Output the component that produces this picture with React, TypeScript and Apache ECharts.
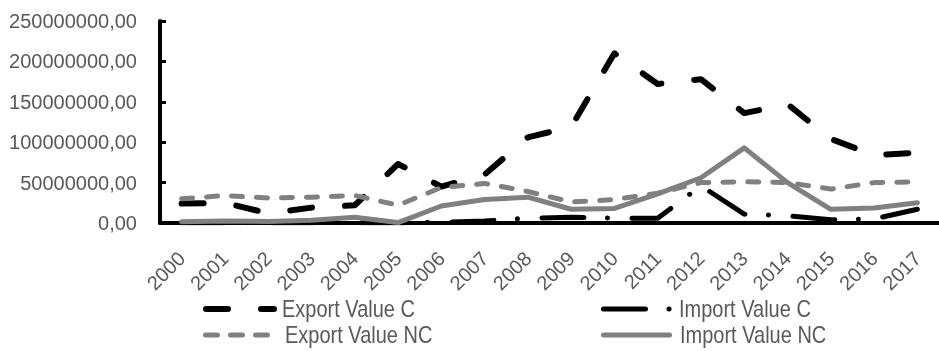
import { useEffect, useRef } from "react";
import * as echarts from "echarts";

const years = [
  "2000", "2001", "2002", "2003", "2004", "2005", "2006", "2007", "2008",
  "2009", "2010", "2011", "2012", "2013", "2014", "2015", "2016", "2017",
];

const exportValueC = [
  24000000, 25000000, 12000000, 19000000, 22000000, 73000000, 45000000, 60000000, 106000000,
  119000000, 210000000, 172000000, 178000000, 136000000, 147000000, 104000000, 84000000, 87000000,
];

const importValueC = [
  300000, 300000, 300000, 300000, 300000, 300000, 1000000, 2500000, 6000000,
  7000000, 6000000, 6000000, 46000000, 11000000, 9000000, 4000000, 5000000, 17000000,
];

const exportValueNC = [
  30000000, 34000000, 31000000, 32000000, 34000000, 22000000, 44000000, 49000000, 39000000,
  26000000, 29000000, 37000000, 50000000, 51000000, 50000000, 42000000, 50000000, 51000000,
];

const importValueNC = [
  1500000, 2500000, 2000000, 3500000, 7000000, 500000, 21000000, 29000000, 32000000,
  17000000, 18000000, 36000000, 56000000, 93000000, 50000000, 17000000, 18500000, 25000000,
];

const yMax = 250000000;
const yStep = 50000000;

const FONT = '"Liberation Sans", Arial, sans-serif';
const LABEL_GREY = "#595959";
const LINE_GREY = "#808080";

export default function App() {
  const ref = useRef<HTMLDivElement>(null);

  useEffect(() => {
    if (!ref.current) return;
    const chart = echarts.init(ref.current, undefined, { renderer: "svg" });

    const legendText = (text: string, x: number, y: number) => ({
      type: "text",
      x,
      y,
      scaleY: 1.2,
      style: {
        text,
        fill: LABEL_GREY,
        fontSize: 20,
        fontFamily: FONT,
        align: "left",
        verticalAlign: "middle",
      },
    });

    chart.setOption({
      animation: false,
      grid: { left: 160, right: -9, top: 21, bottom: 128, containLabel: false },
      xAxis: {
        type: "category",
        data: years,
        boundaryGap: true,
        axisLine: { show: true, lineStyle: { color: "#000", width: 4 } },
        axisTick: { show: false },
        axisLabel: {
          interval: 0,
          rotate: 45,
          margin: 32,
          fontSize: 20,
          fontFamily: FONT,
          color: LABEL_GREY,
        },
        splitLine: { show: false },
      },
      yAxis: {
        type: "value",
        min: 0,
        max: yMax,
        interval: yStep,
        axisLine: { show: true, lineStyle: { color: "#000", width: 4 } },
        axisTick: { show: true, inside: true, length: 6, lineStyle: { color: "#000", width: 3 } },
        axisLabel: {
          margin: 23,
          fontSize: 20,
          fontFamily: FONT,
          color: LABEL_GREY,
          formatter: (v: number) => v.toFixed(2).replace(".", ","),
        },
        splitLine: { show: false },
      },
      series: [
        {
          name: "Export Value C",
          type: "line",
          data: exportValueC,
          symbol: "none",
          lineStyle: { color: "#000", width: 6, type: [22, 33], cap: "round", join: "round" },
        },
        {
          name: "Import Value C",
          type: "line",
          data: importValueC,
          symbol: "none",
          lineStyle: { color: "#000", width: 5, type: [42, 23.5, 0.1, 24.5], cap: "round", join: "round" },
        },
        {
          name: "Export Value NC",
          type: "line",
          data: exportValueNC,
          symbol: "none",
          lineStyle: { color: LINE_GREY, width: 5, type: [11, 14], cap: "round", join: "round" },
        },
        {
          name: "Import Value NC",
          type: "line",
          data: importValueNC,
          symbol: "none",
          lineStyle: { color: LINE_GREY, width: 5, type: "solid", cap: "round", join: "round" },
        },
      ],
      graphic: [
        {
          type: "line",
          shape: { x1: 206, y1: 309, x2: 274, y2: 309 },
          style: { stroke: "#000", lineWidth: 6, lineDash: [22, 33], lineCap: "round" },
        },
        legendText("Export Value C", 282, 309),
        {
          type: "line",
          shape: { x1: 205.5, y1: 335, x2: 267.5, y2: 335 },
          style: { stroke: LINE_GREY, lineWidth: 5, lineDash: [12, 13], lineCap: "round" },
        },
        legendText("Export Value NC", 285, 335),
        {
          type: "line",
          shape: { x1: 603.5, y1: 309, x2: 669.1, y2: 309 },
          style: { stroke: "#000", lineWidth: 5, lineDash: [42, 23.5, 0.1, 50], lineCap: "round" },
        },
        legendText("Import Value C", 679, 309),
        {
          type: "line",
          shape: { x1: 603.5, y1: 335, x2: 669.5, y2: 335 },
          style: { stroke: LINE_GREY, lineWidth: 5, lineCap: "round" },
        },
        legendText("Import Value NC", 680, 335),
      ],
    });

    return () => chart.dispose();
  }, []);

  return (
    <div
      ref={ref}
      style={{ position: "fixed", left: 0, top: 0, width: 939, height: 351 }}
    />
  );
}
